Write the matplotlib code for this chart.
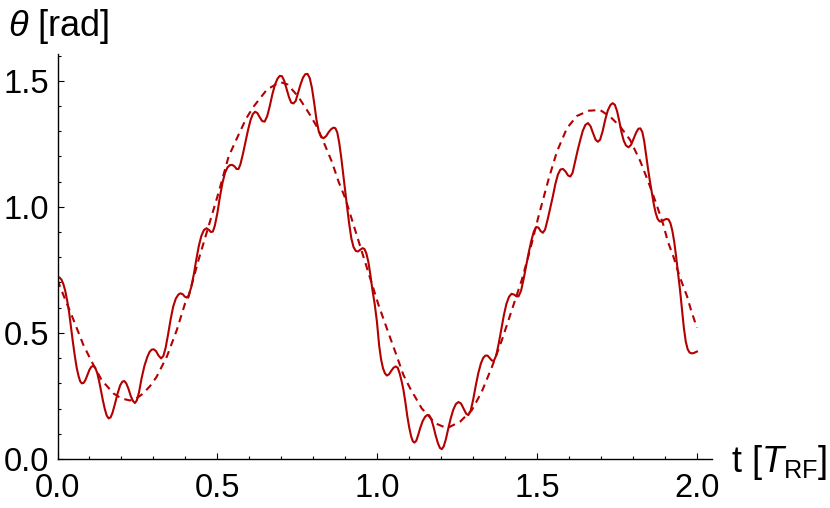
import numpy as np
import matplotlib
matplotlib.use('Agg')
import matplotlib.pyplot as plt
from matplotlib.ticker import MultipleLocator, FormatStrFormatter

plt.rcParams['font.family'] = ['Liberation Sans', 'DejaVu Sans']
plt.rcParams['mathtext.fontset'] = 'custom'
plt.rcParams['mathtext.rm'] = 'Liberation Sans'
plt.rcParams['mathtext.it'] = 'Liberation Sans:italic'
#------------------------------------------------------------------------
# solid curve
t_solid = [0.000, 0.006, 0.012, 0.018, 0.024, 0.030, 0.036, 0.042, 0.048, 0.054,
           0.060, 0.066, 0.071, 0.076, 0.082, 0.088, 0.094, 0.100, 0.106, 0.112,
           0.118, 0.124, 0.130, 0.136, 0.142, 0.148, 0.154, 0.160, 0.166, 0.172,
           0.180, 0.188, 0.196, 0.203, 0.209, 0.215, 0.222, 0.229, 0.236, 0.242,
           0.248, 0.255, 0.263, 0.272, 0.281, 0.288, 0.295, 0.301, 0.308, 0.316,
           0.324, 0.331, 0.338, 0.346, 0.354, 0.362, 0.370, 0.378, 0.385, 0.392,
           0.398, 0.404, 0.410, 0.418, 0.426, 0.434, 0.442, 0.450, 0.458, 0.466,
           0.474, 0.480, 0.486, 0.492, 0.500, 0.508, 0.516, 0.524, 0.532, 0.540,
           0.547, 0.554, 0.560, 0.566, 0.572, 0.580, 0.588, 0.596, 0.604, 0.611,
           0.618, 0.625, 0.632, 0.640, 0.648, 0.656, 0.664, 0.672, 0.680, 0.688,
           0.695, 0.702, 0.709, 0.716, 0.724, 0.731, 0.738, 0.745, 0.752, 0.760,
           0.768, 0.775, 0.782, 0.789, 0.796, 0.803, 0.810, 0.817, 0.824, 0.832,
           0.840, 0.848, 0.856, 0.863, 0.869, 0.875, 0.881, 0.887, 0.893, 0.899,
           0.905, 0.912, 0.919, 0.926, 0.933, 0.940, 0.947, 0.954, 0.960, 0.966,
           0.972, 0.978, 0.985, 0.992, 0.999, 1.006, 1.012, 1.018, 1.024, 1.030,
           1.037, 1.044, 1.051, 1.058, 1.064, 1.070, 1.076, 1.082, 1.088, 1.094,
           1.100, 1.106, 1.111, 1.116, 1.122, 1.128, 1.135, 1.142, 1.150, 1.157,
           1.163, 1.169, 1.176, 1.183, 1.190, 1.196, 1.202, 1.208, 1.215, 1.222,
           1.230, 1.238, 1.246, 1.254, 1.262, 1.270, 1.278, 1.285, 1.292, 1.300,
           1.308, 1.316, 1.324, 1.331, 1.338, 1.345, 1.352, 1.359, 1.365, 1.372,
           1.380, 1.388, 1.396, 1.404, 1.412, 1.420, 1.428, 1.435, 1.442, 1.450,
           1.458, 1.466, 1.474, 1.482, 1.490, 1.497, 1.504, 1.511, 1.518, 1.525,
           1.533, 1.541, 1.549, 1.557, 1.565, 1.573, 1.581, 1.589, 1.597, 1.604,
           1.611, 1.619, 1.627, 1.635, 1.643, 1.651, 1.659, 1.667, 1.675, 1.683,
           1.690, 1.697, 1.705, 1.713, 1.721, 1.729, 1.736, 1.743, 1.750, 1.757,
           1.764, 1.771, 1.778, 1.786, 1.794, 1.802, 1.810, 1.817, 1.823, 1.829,
           1.835, 1.841, 1.847, 1.853, 1.859, 1.865, 1.871, 1.877, 1.883, 1.890,
           1.897, 1.904, 1.911, 1.917, 1.923, 1.929, 1.935, 1.941, 1.947, 1.953,
           1.959, 1.965, 1.971, 1.977, 1.983, 1.990, 1.996, 2.000]
theta_solid = [0.718, 0.720, 0.712, 0.695, 0.668, 0.630, 0.585, 0.525, 0.465, 0.410,
               0.362, 0.328, 0.308, 0.300, 0.302, 0.315, 0.335, 0.354, 0.366, 0.369,
               0.362, 0.342, 0.310, 0.270, 0.232, 0.198, 0.172, 0.161, 0.165, 0.183,
               0.220, 0.260, 0.292, 0.307, 0.309, 0.300, 0.278, 0.250, 0.230, 0.222,
               0.232, 0.265, 0.320, 0.370, 0.405, 0.425, 0.434, 0.435, 0.428, 0.410,
               0.399, 0.408, 0.440, 0.495, 0.555, 0.605, 0.636, 0.652, 0.657, 0.653,
               0.644, 0.640, 0.648, 0.680, 0.730, 0.790, 0.845, 0.885, 0.908, 0.915,
               0.908, 0.900, 0.902, 0.925, 0.975, 1.040, 1.095, 1.135, 1.157, 1.166,
               1.166, 1.160, 1.150, 1.150, 1.168, 1.210, 1.258, 1.305, 1.345, 1.368,
               1.377, 1.372, 1.356, 1.340, 1.338, 1.360, 1.400, 1.446, 1.484, 1.508,
               1.519, 1.518, 1.500, 1.470, 1.435, 1.413, 1.410, 1.420, 1.450, 1.485,
               1.513, 1.526, 1.527, 1.510, 1.470, 1.410, 1.345, 1.300, 1.278, 1.272,
               1.280, 1.296, 1.308, 1.314, 1.312, 1.295, 1.255, 1.200, 1.135, 1.070,
               1.007, 0.935, 0.875, 0.840, 0.825, 0.823, 0.830, 0.836, 0.833, 0.815,
               0.783, 0.735, 0.670, 0.615, 0.545, 0.450, 0.395, 0.360, 0.340, 0.331,
               0.336, 0.350, 0.362, 0.367, 0.362, 0.340, 0.310, 0.274, 0.225, 0.170,
               0.125, 0.090, 0.071, 0.065, 0.072, 0.095, 0.125, 0.150, 0.168, 0.175,
               0.173, 0.158, 0.128, 0.092, 0.062, 0.044, 0.039, 0.050, 0.080, 0.120,
               0.162, 0.196, 0.218, 0.226, 0.220, 0.200, 0.180, 0.174, 0.190, 0.235,
               0.290, 0.340, 0.378, 0.400, 0.410, 0.410, 0.400, 0.390, 0.390, 0.410,
               0.458, 0.515, 0.570, 0.615, 0.643, 0.655, 0.652, 0.645, 0.645, 0.668,
               0.715, 0.768, 0.820, 0.866, 0.903, 0.920, 0.918, 0.904, 0.897, 0.910,
               0.950, 0.995, 1.040, 1.090, 1.128, 1.148, 1.150, 1.140, 1.124, 1.120,
               1.135, 1.180, 1.225, 1.265, 1.302, 1.325, 1.332, 1.320, 1.292, 1.266,
               1.258, 1.266, 1.300, 1.345, 1.382, 1.403, 1.411, 1.405, 1.380, 1.340,
               1.295, 1.262, 1.243, 1.236, 1.246, 1.270, 1.295, 1.310, 1.311, 1.297,
               1.260, 1.205, 1.150, 1.100, 1.055, 1.010, 0.975, 0.952, 0.942, 0.942,
               0.948, 0.952, 0.950, 0.935, 0.905, 0.860, 0.800, 0.735, 0.670, 0.595,
               0.520, 0.465, 0.435, 0.422, 0.419, 0.420, 0.424, 0.426]

# dashed curve
t_dash = [0.000, 0.020, 0.044, 0.081, 0.107, 0.138, 0.175, 0.200, 0.227, 0.250,
          0.268, 0.290, 0.310, 0.342, 0.373, 0.399, 0.409, 0.441, 0.472, 0.503,
          0.535, 0.566, 0.590, 0.613, 0.655, 0.696, 0.720, 0.753, 0.790, 0.811,
          0.832, 0.858, 0.879, 0.900, 0.926, 0.952, 0.978, 1.004, 1.030, 1.056,
          1.082, 1.103, 1.139, 1.181, 1.218, 1.259, 1.296, 1.327, 1.359, 1.390,
          1.421, 1.452, 1.478, 1.504, 1.536, 1.562, 1.593, 1.624, 1.661, 1.697,
          1.729, 1.760, 1.791, 1.823, 1.849, 1.873, 1.894, 1.909, 1.927, 1.946,
          1.969, 1.982, 2.000]
theta_dash = [0.710, 0.645, 0.571, 0.452, 0.386, 0.313, 0.260, 0.240, 0.232, 0.243,
              0.260, 0.290, 0.326, 0.406, 0.511, 0.617, 0.640, 0.789, 0.921, 1.053,
              1.199, 1.285, 1.350, 1.397, 1.465, 1.495, 1.485, 1.437, 1.364, 1.318,
              1.258, 1.179, 1.100, 1.034, 0.928, 0.822, 0.716, 0.611, 0.518, 0.426,
              0.333, 0.280, 0.201, 0.142, 0.122, 0.148, 0.194, 0.267, 0.366, 0.472,
              0.591, 0.710, 0.829, 0.960, 1.110, 1.219, 1.311, 1.360, 1.381, 1.384,
              1.357, 1.318, 1.265, 1.180, 1.095, 1.011, 0.932, 0.862, 0.800, 0.723,
              0.645, 0.588, 0.520]

x_ticks = [0.0, 0.5, 1.0, 1.5, 2.0]
y_ticks = [0.0, 0.5, 1.0, 1.5]
#------------------------------------------------------------------------
col = '#b30000'
fig = plt.figure(figsize=(8.3, 5.08), dpi=100)
ax = fig.add_axes([57.5/830, 49/508, 654.5/830, 405/508])

ax.plot(t_solid, theta_solid, '-', color=col, linewidth=1.5)
ax.plot(t_dash, theta_dash, '--', color=col, linewidth=1.5, dashes=(3.5, 2.6))

ax.set_xlim(0, 2.047)
ax.set_ylim(0, 1.606)
for s in ['top', 'right']:
    ax.spines[s].set_visible(False)
for s in ['left', 'bottom']:
    ax.spines[s].set_linewidth(1.0)

ax.set_xticks(x_ticks)
ax.set_yticks(y_ticks)
ax.xaxis.set_major_formatter(FormatStrFormatter('%.1f'))
ax.yaxis.set_major_formatter(FormatStrFormatter('%.1f'))
ax.xaxis.set_minor_locator(MultipleLocator(0.1))
ax.yaxis.set_minor_locator(MultipleLocator(0.1))
ax.tick_params(which='both', direction='in', width=0.8, labelsize=23.5)
ax.tick_params(which='major', length=4)
ax.tick_params(which='minor', length=2.3)
ax.tick_params(axis='y', pad=6)
ax.tick_params(axis='x', pad=10)

fig.text(8/830, 1 - 26/508, r'$\theta$ [rad]', fontsize=26, ha='left', va='center')
fig.text(731/830, 1 - 462/508, r't [$T_{\mathrm{RF}}$]', fontsize=26, ha='left', va='center')

plt.savefig('out.png', dpi=100)
plt.close()
